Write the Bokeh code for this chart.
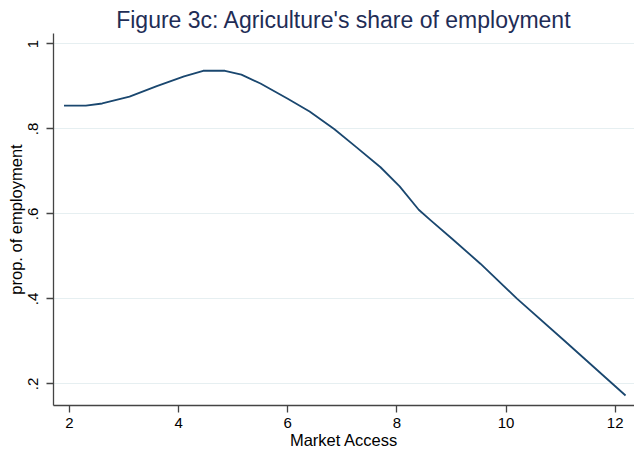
from bokeh.plotting import figure
from bokeh.models import FixedTicker, Range1d
from bokeh.embed import file_html
from bokeh.resources import INLINE

# Smoothed agricultural employment share against market access
market_access = [1.90, 2.30, 2.60, 3.10, 3.60, 4.10, 4.45, 4.85, 5.15, 5.50, 6.00,
                 6.40, 6.85, 7.25, 7.70, 8.05, 8.40, 8.62, 9.00, 9.53, 10.20,
                 11.06, 12.19]
ag_share = [0.855, 0.855, 0.860, 0.876, 0.901, 0.924, 0.937, 0.937, 0.928, 0.907,
            0.871, 0.841, 0.800, 0.758, 0.710, 0.665, 0.610, 0.585, 0.543, 0.483,
            0.401, 0.303, 0.173]

x_ticks = [2, 4, 6, 8, 10, 12]
y_ticks = [0.2, 0.4, 0.6, 0.8, 1.0]
y_tick_labels = {0.2: ".2", 0.4: ".4", 0.6: ".6", 0.8: ".8", 1.0: "1"}

FONT = "Liberation Sans"
AXIS_COLOR = "#444444"

p = figure(width=634, height=454, output_backend="svg", toolbar_location=None,
           x_range=Range1d(1.707, 12.354), y_range=Range1d(0.1494, 1.0247),
           min_border_left=53, min_border_right=0, min_border_top=33,
           min_border_bottom=49,
           title="Figure 3c: Agriculture's share of employment")

p.background_fill_color = "white"
p.border_fill_color = "white"
p.outline_line_color = None

p.title.align = "center"
p.title.text_font = FONT
p.title.text_font_size = "23px"
p.title.text_font_style = "normal"
p.title.text_color = "#1f2d56"
p.title.standoff = 2
p.title.offset = 0

p.line(market_access, ag_share, line_color="#1a476f", line_width=1.8,
       line_join="round")

# Axes
p.xaxis.ticker = FixedTicker(ticks=x_ticks)
p.yaxis.ticker = FixedTicker(ticks=y_ticks)
p.yaxis.major_label_overrides = y_tick_labels
p.yaxis.major_label_orientation = "vertical"
p.xaxis.axis_label = "Market Access"
p.yaxis.axis_label = "prop. of employment"

for ax in (p.xaxis, p.yaxis):
    ax.axis_line_color = AXIS_COLOR
    ax.axis_line_width = 1.3
    ax.major_tick_line_color = AXIS_COLOR
    ax.major_tick_line_width = 1.3
    ax.major_tick_out = 7
    ax.major_tick_in = 0
    ax.minor_tick_line_color = None
    ax.major_label_text_font = FONT
    ax.major_label_text_font_size = "15px"
    ax.major_label_text_color = "black"
    ax.axis_label_text_font = FONT
    ax.axis_label_text_font_size = "16.5px"
    ax.axis_label_text_font_style = "normal"
    ax.axis_label_text_color = "black"

p.xaxis.major_label_standoff = 5
p.xaxis.axis_label_standoff = 0
p.yaxis.major_label_standoff = 8
p.yaxis.axis_label_standoff = 1

p.xgrid.grid_line_color = None
p.ygrid.grid_line_color = "#e6eff1"
p.ygrid.grid_line_width = 1.2

open("out.html", "w").write(file_html(p, INLINE))
